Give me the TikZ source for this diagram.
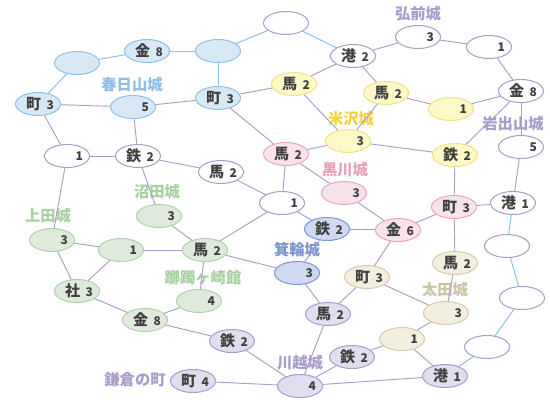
\documentclass[tikz,border=0pt]{standalone}
\usepackage{fontspec}
\newfontfamily\cjk{Noto Sans CJK JP}
\usetikzlibrary{shapes.geometric}
\definecolor{txt}{HTML}{404040}
\definecolor{edgep}{HTML}{A99DCB}
\definecolor{edgeb}{HTML}{88BDE6}
\definecolor{bfill}{HTML}{D8E9F6}\definecolor{bdraw}{HTML}{90C0E8}
\definecolor{yfill}{HTML}{FFF9C8}\definecolor{ydraw}{HTML}{F4E08A}
\definecolor{pfill}{HTML}{F8E2EC}\definecolor{pdraw}{HTML}{E8A8C0}
\definecolor{mfill}{HTML}{CFDAF0}\definecolor{mdraw}{HTML}{7F98D4}
\definecolor{ofill}{HTML}{F3EFDF}\definecolor{odraw}{HTML}{D4CCAA}
\definecolor{gfill}{HTML}{DFEADD}\definecolor{gdraw}{HTML}{ACD2AA}
\definecolor{lfill}{HTML}{E2DDEF}\definecolor{ldraw}{HTML}{A99DCB}
\definecolor{blbl}{HTML}{8FBFE6}
\definecolor{llbl}{HTML}{A99DCB}
\definecolor{ylbl}{HTML}{F5D33F}
\definecolor{plbl}{HTML}{E8A0B8}
\definecolor{mlbl}{HTML}{7A94D0}
\definecolor{olbl}{HTML}{CBC3A3}
\definecolor{glbl}{HTML}{A8D0A0}
\newcommand\nk[2]{\makebox[23.8pt][r]{\fontsize{11.25}{11}\selectfont #1\hspace{4pt}\fontsize{9}{9}\selectfont #2}}
\tikzset{
  nd/.style={ellipse, minimum width=33.75pt, minimum height=17.25pt, inner sep=0pt, line width=0.75pt, font=\cjk\bfseries, text=txt},
  wn/.style={nd, draw=edgep, fill=white},
  bn/.style={nd, draw=bdraw, fill=bfill},
  yn/.style={nd, draw=ydraw, fill=yfill},
  pn/.style={nd, draw=pdraw, fill=pfill},
  mn/.style={nd, draw=mdraw, fill=mfill},
  on/.style={nd, draw=odraw, fill=ofill},
  gn/.style={nd, draw=gdraw, fill=gfill},
  ln/.style={nd, draw=ldraw, fill=lfill},
  ep/.style={draw=edgep, line width=0.7pt},
  eb/.style={draw=edgeb, line width=0.7pt},
  lbl/.style={font=\cjk\bfseries\fontsize{11.5}{12}\selectfont, inner sep=0pt}
}
\begin{document}
\begin{tikzpicture}[x=0.75pt,y=-0.75pt]
\path[fill=white] (0,0) rectangle (550,400);
% blue
\node[bn] (b1) at (77,63) {};
\node[bn] (b2) at (147,51) {\nk{金}{8}};
\node[bn] (b3) at (218,51) {};
\node[bn] (b4) at (38,104) {\nk{町}{3}};
\node[bn] (b5) at (133,107) {\nk{}{5}};
\node[bn] (b6) at (218,98) {\nk{町}{3}};
% white
\node[wn] (w1) at (286,23) {};
\node[wn] (wport2) at (353,56) {\nk{港}{2}};
\node[wn] (wh3) at (418,37) {\nk{}{3}};
\node[wn] (wh1) at (489,47) {\nk{}{1}};
\node[wn] (wk8) at (521,91) {\nk{金}{8}};
\node[wn] (w5) at (521,147) {\nk{}{5}};
\node[wn] (wport1) at (513,203) {\nk{港}{1}};
\node[wn] (we1) at (507,246) {};
\node[wn] (we2) at (522,298) {};
\node[wn] (we3) at (487,347) {};
\node[wn] (w1a) at (67,156) {\nk{}{1}};
\node[wn] (wt2) at (138,156) {\nk{鉄}{2}};
\node[wn] (wu2) at (221,172) {\nk{馬}{2}};
\node[wn] (w1b) at (282,203) {\nk{}{1}};
% yellow
\node[yn] (yu1) at (294,84) {\nk{馬}{2}};
\node[yn] (yu2) at (386,93) {\nk{馬}{2}};
\node[yn] (y1) at (451,109) {\nk{}{1}};
\node[yn] (y3) at (348,141) {\nk{}{3}};
\node[yn] (yt2) at (455,155) {\nk{鉄}{2}};
% pink
\node[pn] (pu2) at (286,154) {\nk{馬}{2}};
\node[pn] (p3) at (344,193) {\nk{}{3}};
\node[pn] (pm3) at (454,207) {\nk{町}{3}};
\node[pn] (pk6) at (398,230) {\nk{金}{6}};
% minowa
\node[mn] (mt2) at (327,229) {\nk{鉄}{2}};
\node[mn] (m3) at (297,273) {\nk{}{3}};
% beige
\node[on] (om3) at (367,277) {\nk{町}{3}};
\node[on] (ou2) at (455,263) {\nk{馬}{2}};
\node[on] (o3) at (446,313) {\nk{}{3}};
\node[on] (o1) at (402,339) {\nk{}{1}};
% green
\node[gn] (gn3) at (159,216) {\nk{}{3}};
\node[gn] (gu3) at (52,240) {\nk{}{3}};
\node[gn] (g1) at (121,250) {\nk{}{1}};
\node[gn] (gu2) at (205,250) {\nk{馬}{2}};
\node[gn] (gs3) at (77,291) {\nk{社}{3}};
\node[gn] (g4) at (199,301) {\nk{}{4}};
\node[gn] (gk8) at (145,320) {\nk{金}{8}};
% lavender
\node[ln] (lt2) at (232,341) {\nk{鉄}{2}};
\node[ln] (lm4) at (193,381) {\nk{町}{4}};
\node[ln] (lu2) at (328,314) {\nk{馬}{2}};
\node[ln] (l4) at (300,386) {\nk{}{4}};
\node[ln] (lt2b) at (352,357) {\nk{鉄}{2}};
\node[ln] (lp1) at (445,376) {\nk{港}{1}};
% labels
\node[lbl, text=blbl] (t1) at (132,85) {春日山城};
\node[lbl, text=llbl] (t2) at (418,14) {弘前城};
\node[lbl, text=llbl] (t3) at (513,124) {岩出山城};
\node[lbl, text=ylbl] (t4) at (351,119) {米沢城};
\node[lbl, text=plbl] (t5) at (345,170) {黒川城};
\node[lbl, text=mlbl] (t6) at (297,250) {箕輪城};
\node[lbl, text=olbl] (t7) at (445,290) {太田城};
\node[lbl, text=glbl] (t8) at (157,192) {沼田城};
\node[lbl, text=glbl] (t9) at (48,216) {上田城};
\node[lbl, text=glbl] (t10) at (203,278) {躑躅ヶ崎館};
\node[lbl, text=llbl] (t11) at (300,363) {川越城};
\node[lbl, text=llbl] (t12) at (135,380) {鎌倉の町};
% edges
\draw[eb] (b1) -- (b4);
\draw[eb] (b1) -- (b2);
\draw[eb] (b2) -- (b3);
\draw[eb] (b3) -- (b6);
\draw[eb] (b3) -- (w1);
\draw[eb] (w1) -- (wport2);
\draw[eb] (wport1) -- (we1);
\draw[eb] (we1) -- (we2);
\draw[eb] (we2) -- (we3);
\draw[eb] (we3) -- (lp1);
\draw[ep] (b4) -- (b5);
\draw[ep] (b5) -- (b6);
\draw[ep] (b4) -- (w1a);
\draw[ep] (b5) -- (wt2);
\draw[ep] (b6) -- (yu1);
\draw[ep] (b6) -- (pu2);
\draw[ep] (w1a) -- (wt2);
\draw[ep] (w1a) -- (gu3);
\draw[ep] (wt2) -- (wu2);
\draw[ep] (wt2) -- (gn3);
\draw[ep] (wu2) -- (w1b);
\draw[ep] (w1b) -- (pu2);
\draw[ep] (w1b) -- (gu2);
\draw[ep] (w1b) -- (mt2);
\draw[ep] (gn3) -- (gu2);
\draw[ep] (gu3) -- (g1);
\draw[ep] (gu3) -- (gs3);
\draw[ep] (g1) -- (gs3);
\draw[ep] (g1) -- (gu2);
\draw[ep] (gu2) -- (g4);
\draw[ep] (gu2) -- (m3);
\draw[ep] (gs3) -- (gk8);
\draw[ep] (gk8) -- (g4);
\draw[ep] (gk8) -- (lt2);
\draw[ep] (lt2) -- (l4);
\draw[ep] (lm4) -- (l4);
\draw[ep] (l4) -- (lu2);
\draw[ep] (l4) -- (lt2b);
\draw[ep] (l4) -- (lp1);
\draw[ep] (lt2b) -- (o1);
\draw[ep] (o1) -- (lp1);
\draw[ep] (o1) -- (o3);
\draw[ep] (o3) -- (om3);
\draw[ep] (o3) -- (ou2);
\draw[ep] (ou2) -- (pm3);
\draw[ep] (om3) -- (lu2);
\draw[ep] (om3) -- (pk6);
\draw[ep] (m3) -- (mt2);
\draw[ep] (m3) -- (lu2);
\draw[ep] (mt2) -- (pk6);
\draw[ep] (pk6) -- (p3);
\draw[ep] (pk6) -- (pm3);
\draw[ep] (pu2) -- (p3);
\draw[ep] (pu2) -- (y3);
\draw[ep] (y3) -- (yu2);
\draw[ep] (y3) -- (yt2);
\draw[ep] (yu1) -- (wport2);
\draw[ep] (yu1) -- (y3);
\draw[ep] (wport2) -- (yu2);
\draw[ep] (wport2) -- (wh3);
\draw[ep] (wh3) -- (wh1);
\draw[ep] (wh1) -- (wk8);
\draw[ep] (wk8) -- (y1);
\draw[ep] (y1) -- (yu2);
\draw[ep] (wk8) -- (yt2);
\draw[ep] (wk8) -- (w5);
\draw[ep] (w5) -- (wport1);
\draw[ep] (yt2) -- (pm3);
\draw[ep] (pm3) -- (wport1);
\end{tikzpicture}
\end{document}
